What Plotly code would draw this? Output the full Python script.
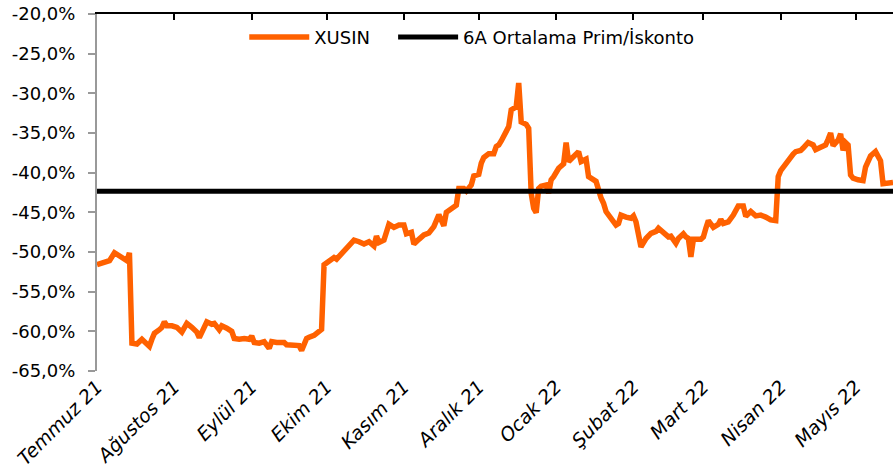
import plotly.graph_objects as go

dates = [
    "2021-07-01", "2021-07-03", "2021-07-06", "2021-07-08", "2021-07-09", "2021-07-11", "2021-07-13",
    "2021-07-14", "2021-07-15", "2021-07-17", "2021-07-19", "2021-07-21", "2021-07-22", "2021-07-23",
    "2021-07-24", "2021-07-26", "2021-07-27", "2021-07-28", "2021-07-29", "2021-07-31", "2021-08-02",
    "2021-08-04", "2021-08-06", "2021-08-08", "2021-08-10", "2021-08-11", "2021-08-13", "2021-08-14",
    "2021-08-16", "2021-08-17", "2021-08-19", "2021-08-20", "2021-08-22", "2021-08-24", "2021-08-25",
    "2021-08-27", "2021-08-29", "2021-08-31", "2021-09-01", "2021-09-02", "2021-09-04", "2021-09-06",
    "2021-09-08", "2021-09-09", "2021-09-11", "2021-09-13", "2021-09-14", "2021-09-15", "2021-09-17",
    "2021-09-19", "2021-09-20", "2021-09-21", "2021-09-23", "2021-09-24", "2021-09-26", "2021-09-28",
    "2021-09-29", "2021-09-30", "2021-10-02", "2021-10-04", "2021-10-05", "2021-10-07", "2021-10-09",
    "2021-10-10", "2021-10-12", "2021-10-14", "2021-10-16", "2021-10-18", "2021-10-20", "2021-10-21",
    "2021-10-22", "2021-10-24", "2021-10-25", "2021-10-26", "2021-10-28", "2021-10-30", "2021-11-01",
    "2021-11-02", "2021-11-04", "2021-11-05", "2021-11-07", "2021-11-09", "2021-11-11", "2021-11-13",
    "2021-11-15", "2021-11-17", "2021-11-18", "2021-11-20", "2021-11-22", "2021-11-23", "2021-11-25",
    "2021-11-26", "2021-11-28", "2021-11-29", "2021-12-01", "2021-12-02", "2021-12-03", "2021-12-05",
    "2021-12-07", "2021-12-08", "2021-12-09", "2021-12-10", "2021-12-11", "2021-12-13", "2021-12-14",
    "2021-12-16", "2021-12-17", "2021-12-18", "2021-12-20", "2021-12-21", "2021-12-22", "2021-12-23",
    "2021-12-24", "2021-12-25", "2021-12-26", "2021-12-28", "2021-12-29", "2021-12-30", "2021-12-31",
    "2022-01-01", "2022-01-02", "2022-01-04", "2022-01-05", "2022-01-06", "2022-01-08", "2022-01-10",
    "2022-01-11", "2022-01-13", "2022-01-14", "2022-01-16", "2022-01-17", "2022-01-19", "2022-01-20",
    "2022-01-21", "2022-01-23", "2022-01-25", "2022-01-26", "2022-01-27", "2022-01-29", "2022-01-31",
    "2022-02-01", "2022-02-02", "2022-02-04", "2022-02-06", "2022-02-08", "2022-02-10", "2022-02-11",
    "2022-02-13", "2022-02-15", "2022-02-16", "2022-02-18", "2022-02-19", "2022-02-21", "2022-02-22",
    "2022-02-23", "2022-02-24", "2022-02-25", "2022-02-28", "2022-03-01", "2022-03-02", "2022-03-03",
    "2022-03-05", "2022-03-07", "2022-03-08", "2022-03-09", "2022-03-11", "2022-03-13", "2022-03-15",
    "2022-03-17", "2022-03-18", "2022-03-20", "2022-03-22", "2022-03-24", "2022-03-26", "2022-03-28",
    "2022-03-30", "2022-03-31", "2022-04-01", "2022-04-03", "2022-04-05", "2022-04-06", "2022-04-07",
    "2022-04-09", "2022-04-10", "2022-04-12", "2022-04-14", "2022-04-15", "2022-04-17", "2022-04-19",
    "2022-04-20", "2022-04-21", "2022-04-22", "2022-04-24", "2022-04-25", "2022-04-26", "2022-04-27",
    "2022-04-28", "2022-04-29", "2022-04-30", "2022-05-02", "2022-05-04", "2022-05-05", "2022-05-06",
    "2022-05-07", "2022-05-09", "2022-05-10", "2022-05-11", "2022-05-12", "2022-05-14", "2022-05-16",
]

xusin = [
    -51.6, -51.35, -51.1, -50.1, -50.25, -50.7, -51.1,
    -50.1, -61.5, -61.6, -61.0, -61.6, -61.9, -61.0,
    -60.25, -59.8, -59.5, -58.8, -59.3, -59.3, -59.5,
    -60.1, -59.0, -59.5, -60.1, -60.8, -59.3, -58.8,
    -59.1, -59.0, -59.8, -59.3, -59.6, -60.0, -60.9,
    -61.0, -60.9, -61.0, -60.6, -61.4, -61.5, -61.3,
    -62.15, -61.3, -61.4, -61.5, -61.4, -61.7, -61.7,
    -61.8, -61.8, -62.4, -60.9, -60.75, -60.5, -60.0,
    -59.75, -51.6, -51.2, -50.7, -50.9, -50.2, -49.6,
    -49.1, -48.5, -48.7, -49.0, -48.7, -49.25, -48.0,
    -48.8, -48.5, -47.2, -46.5, -46.9, -46.6, -46.6,
    -47.7, -47.5, -49.0, -48.4, -47.85, -47.6, -46.8,
    -45.3, -46.7, -45.0, -44.6, -44.1, -42.0, -42.0,
    -42.3, -41.55, -40.4, -40.2, -38.8, -38.1, -37.6,
    -37.6, -36.7, -36.5, -36.0, -35.5, -34.2, -32.1,
    -31.7, -28.7, -33.6, -33.9, -34.4, -42.6, -44.5,
    -45.05, -42.0, -41.7, -41.55, -42.6, -40.9, -40.5,
    -40.0, -39.45, -38.9, -36.2, -38.6, -38.0, -37.35,
    -38.6, -38.3, -40.5, -40.8, -41.1, -43.2, -43.85,
    -44.9, -45.75, -46.6, -46.4, -45.35, -45.6, -45.75,
    -45.45, -46.2, -49.35, -48.3, -47.65, -47.4, -47.0,
    -47.65, -48.1, -48.0, -48.9, -48.3, -47.7, -48.1,
    -48.3, -50.6, -48.4, -48.4, -48.1, -47.0, -46.05,
    -46.9, -46.5, -45.9, -46.4, -46.2, -45.35, -44.2,
    -44.2, -45.5, -44.9, -45.45, -45.35, -45.6, -45.95,
    -46.05, -40.5, -39.75, -38.8, -38.1, -37.65, -37.35,
    -37.2, -36.9, -36.2, -36.5, -37.1, -36.8, -36.5,
    -35.8, -35.0, -36.6, -35.9, -35.1, -37.2, -36.2,
    -36.5, -40.3, -40.7, -40.9, -41.0, -39.3, -38.4,
    -37.9, -37.35, -38.1, -38.5, -41.4, -41.25, -41.25,
]

avg_6m = -42.35

month_ticks = ["2021-07-01", "2021-08-01", "2021-09-01", "2021-10-01", "2021-11-01", "2021-12-01",
               "2022-01-01", "2022-02-01", "2022-03-01", "2022-04-01", "2022-05-01"]
month_labels = ["Temmuz 21", "Ağustos 21", "Eylül 21", "Ekim 21", "Kasım 21", "Aralık 21",
                "Ocak 22", "Şubat 22", "Mart 22", "Nisan 22", "Mayıs 22"]

y_ticks = [-20, -25, -30, -35, -40, -45, -50, -55, -60, -65]
y_labels = ["-20,0%", "-25,0%", "-30,0%", "-35,0%", "-40,0%", "-45,0%", "-50,0%", "-55,0%", "-60,0%", "-65,0%"]

x_range = ["2021-07-01", "2022-05-16"]
y_range = [-65, -20]

fig = go.Figure()
fig.add_trace(go.Scatter(
    x=dates, y=xusin, mode="lines", name="XUSIN",
    line=dict(color="#FF6100", width=5.5), legend="legend",
))
fig.add_trace(go.Scatter(
    x=[dates[0], dates[-1]], y=[avg_6m, avg_6m], mode="lines", name="6A Ortalama Prim/İskonto",
    line=dict(color="#000000", width=5), xaxis="x2", yaxis="y2", legend="legend2",
))

font_family = "DejaVu Sans"
legend_common = dict(
    orientation="h", yanchor="middle", xanchor="left",
    font=dict(family=font_family, size=18, color="black"),
    bgcolor="rgba(0,0,0,0)", itemwidth=60,
)
fig.update_layout(
    width=893, height=476,
    margin=dict(l=97, r=0, t=14, b=105),
    paper_bgcolor="white", plot_bgcolor="white",
    font=dict(family=font_family, color="black", size=17),
    showlegend=True,
    legend=dict(x=0.185, y=0.935, **legend_common),
    legend2=dict(x=0.372, y=0.935, **legend_common),
    xaxis=dict(
        type="date", range=x_range, tickmode="array", tickvals=month_ticks, ticktext=month_labels,
        tickangle=-45, showline=False, ticks="", showgrid=False, zeroline=False, automargin=False,
        tickfont=dict(family=font_family, size=19, style="italic", color="black"),
    ),
    xaxis2=dict(
        type="date", range=x_range, overlaying="x", side="top", tickmode="array",
        tickvals=month_ticks, showticklabels=False, ticks="inside", ticklen=6, tickwidth=2,
        tickcolor="black", showline=True, linecolor="black", linewidth=2, showgrid=False,
        zeroline=False, automargin=False,
    ),
    yaxis=dict(
        range=y_range, tickmode="array", tickvals=y_ticks, showticklabels=False,
        showline=True, linecolor="#999999", linewidth=2, ticks="outside", ticklen=7,
        tickcolor="#999999", tickwidth=2, showgrid=False, zeroline=False, automargin=False,
    ),
    yaxis2=dict(
        range=y_range, overlaying="y", side="left", tickmode="array", tickvals=y_ticks,
        ticktext=y_labels, showline=False, ticks="outside", ticklen=17,
        tickcolor="rgba(0,0,0,0)", showgrid=False, zeroline=False, automargin=False,
        tickfont=dict(family=font_family, size=18, color="black"),
    ),
)

fig.write_html("out.html", config={"displayModeBar": False},
               post_script="document.body.style.margin='0';")
